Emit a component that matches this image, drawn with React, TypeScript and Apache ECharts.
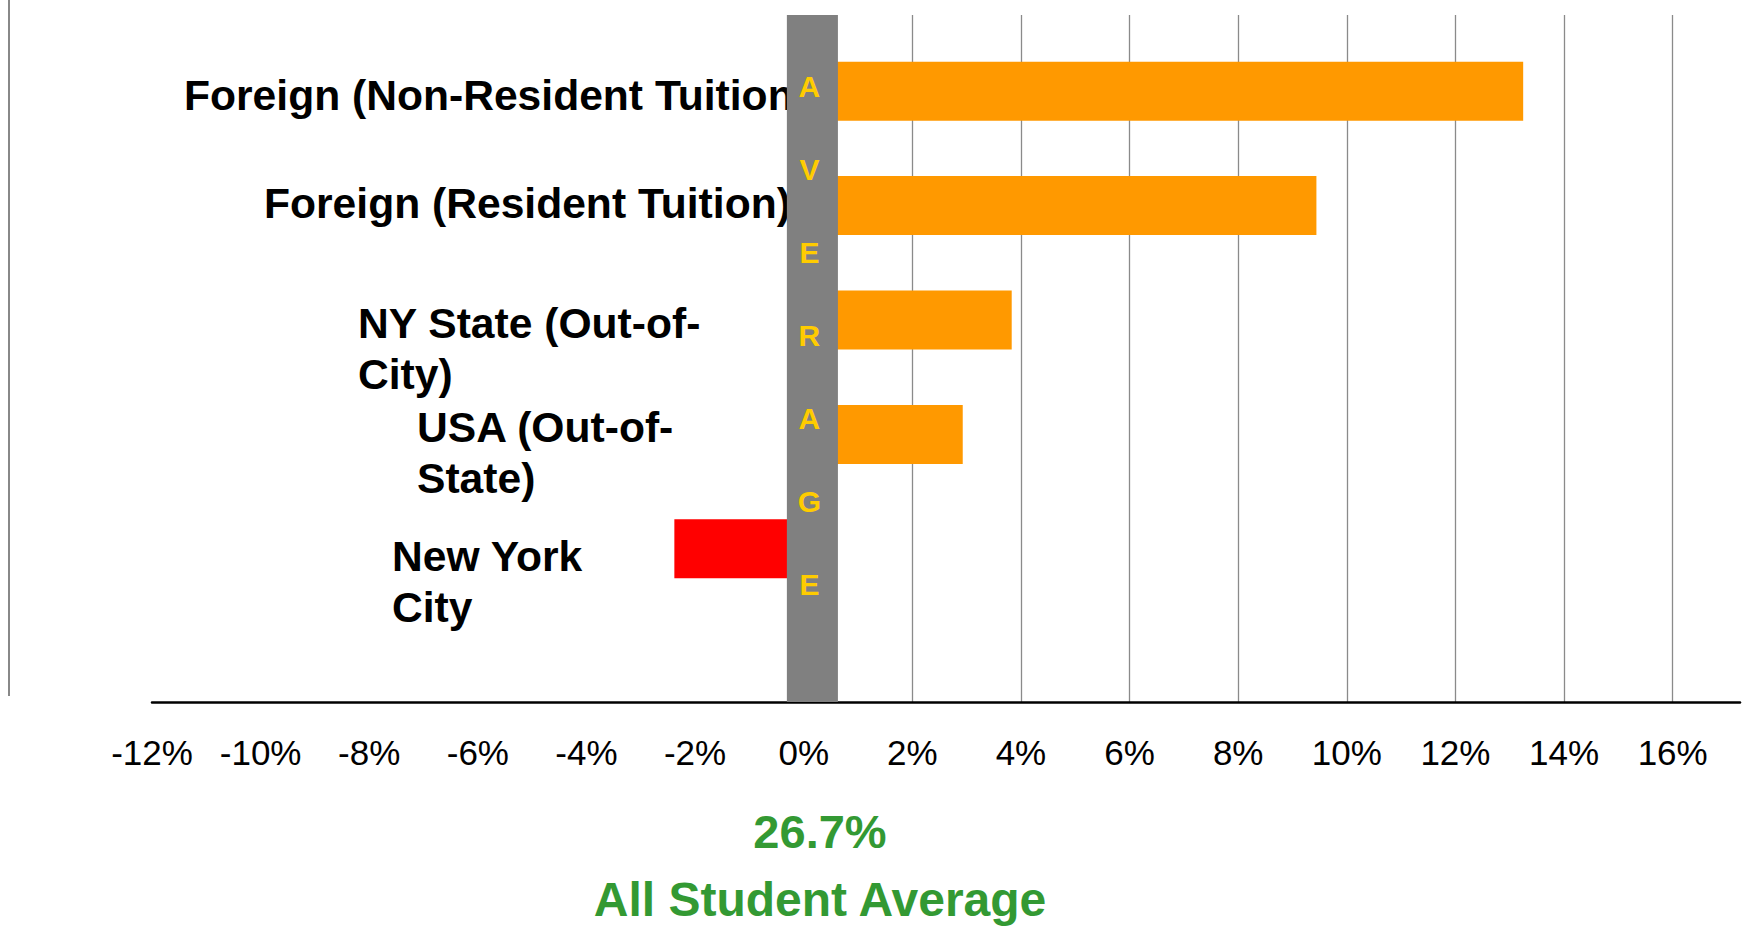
import React, { useEffect, useRef } from "react";
import * as echarts from "echarts";

// ---- data ----
const categories = [
  "Foreign (Non-Resident Tuition)",
  "Foreign (Resident Tuition)",
  "NY State (Out-of-\nCity)",
  "USA (Out-of-\nState)",
  "New York\nCity",
];
const values = [13.2, 9.4, 3.8, 2.9, -2.4];
const averageBand = [-0.31, 0.63];
const averageWord = "AVERAGE";
const averageValue = "26.7%";
const averageLabel = "All Student Average";
const axisMin = -12;
const axisMax = 17.24;
const axisStep = 2;

// ---- styles / layout ----
const FONT = "'Liberation Sans', Arial, Helvetica, sans-serif";
const labelLeft = [184, 264, 358, 417, 392];
const labelShift = [4, -3, 3, -7, 7];
const LINE_H = 51;
const GRID_LEFT = 152;

export default function App() {
  const ref = useRef<HTMLDivElement>(null);
  useEffect(() => {
    if (!ref.current) return;
    const chart = echarts.init(ref.current, undefined, { renderer: "svg" });

    const nTicks = Math.floor((axisMax - axisMin) / axisStep) + 2;
    const splitColors: string[] = [];
    for (let i = 0; i < nTicks; i++) {
      const v = axisMin + i * axisStep;
      splitColors.push(v > 0 && v <= axisMax ? "#8a8a8a" : "rgba(0,0,0,0)");
    }

    chart.setOption({
      animation: false,
      backgroundColor: "#ffffff",
      textStyle: { fontFamily: FONT },
      grid: [
        { left: GRID_LEFT, right: 0, top: 34, height: 572 },
        { left: GRID_LEFT, right: 0, top: 15, bottom: 224 },
      ],
      xAxis: [
        {
          gridIndex: 0,
          type: "value",
          min: axisMin,
          max: axisMax,
          interval: axisStep,
          show: false,
        },
        {
          gridIndex: 1,
          type: "value",
          min: axisMin,
          max: axisMax,
          interval: axisStep,
          position: "bottom",
          axisLine: { show: true, onZero: false, lineStyle: { color: "#000", width: 2.5 } },
          axisTick: { show: false },
          splitLine: {
            show: true,
            showMaxLine: false,
            lineStyle: { color: splitColors, width: 1.3 },
          },
          axisLabel: {
            margin: 33,
            fontSize: 35,
            color: "#000",
            fontFamily: FONT,
            formatter: (v: number) =>
              Math.abs(v % axisStep) < 1e-9 ? `${v}%` : "",
          },
        },
      ],
      yAxis: [
        {
          gridIndex: 0,
          type: "category",
          inverse: true,
          data: categories,
          axisLine: { show: false, onZero: false },
          axisTick: { show: false },
          splitLine: { show: false },
          axisLabel: { show: false },
        },
        {
          gridIndex: 1,
          type: "value",
          min: 0,
          max: 1,
          show: false,
        },
      ],
      series: [
        {
          type: "bar",
          xAxisIndex: 0,
          yAxisIndex: 0,
          barWidth: 59,
          z: 2,
          data: values.map((v) => ({
            value: v,
            itemStyle: { color: v < 0 ? "#FF0000" : "#FF9900" },
          })),
        },
        {
          type: "line",
          xAxisIndex: 1,
          yAxisIndex: 1,
          data: [],
          z: 10,
          markArea: {
            z: 10,
            silent: true,
            itemStyle: { color: "#808080", opacity: 1 },
            label: {
              show: true,
              position: "insideTop",
              distance: 30,
              offset: [-3, 0],
              color: "#FFCC00",
              fontSize: 30,
              fontWeight: "bold",
              lineHeight: 83,
              fontFamily: FONT,
              formatter: averageWord.split("").join("\n"),
            },
            data: [[{ xAxis: averageBand[0] }, { xAxis: averageBand[1] }]],
          },
        },
      ],
    });

    const catLabels = categories.map((c, i) => {
      const yc = chart.convertToPixel({ yAxisIndex: 0 }, i) as number;
      return {
        type: "text",
        id: "cat" + i,
        z: 1,
        x: labelLeft[i],
        y: yc + labelShift[i] - LINE_H / 2,
        style: {
          text: c,
          align: "left",
          verticalAlign: "top",
          textAlign: "left",
          textVerticalAlign: "top",
          lineHeight: LINE_H,
          font: `bold 42.6px ${FONT}`,
          fill: "#000",
        },
      };
    });

    chart.setOption({
      graphic: [
        {
          type: "line",
          id: "leftLine",
          shape: { x1: 9, y1: 0, x2: 9, y2: 696 },
          style: { stroke: "#888", lineWidth: 2 },
        },
        {
          type: "text",
          id: "avgValue",
          x: 820,
          y: 831,
          style: {
            text: averageValue,
            align: "center",
            verticalAlign: "middle",
            textAlign: "center",
            textVerticalAlign: "middle",
            font: `bold 47px ${FONT}`,
            fill: "#339933",
          },
        },
        {
          type: "text",
          id: "avgLabel",
          x: 820,
          y: 899,
          style: {
            text: averageLabel,
            align: "center",
            verticalAlign: "middle",
            textAlign: "center",
            textVerticalAlign: "middle",
            font: `bold 48px ${FONT}`,
            fill: "#339933",
          },
        },
        ...catLabels,
      ],
    });

    return () => chart.dispose();
  }, []);

  return (
    <div
      ref={ref}
      style={{ position: "fixed", left: 0, top: 0, width: 1743, height: 926 }}
    />
  );
}
